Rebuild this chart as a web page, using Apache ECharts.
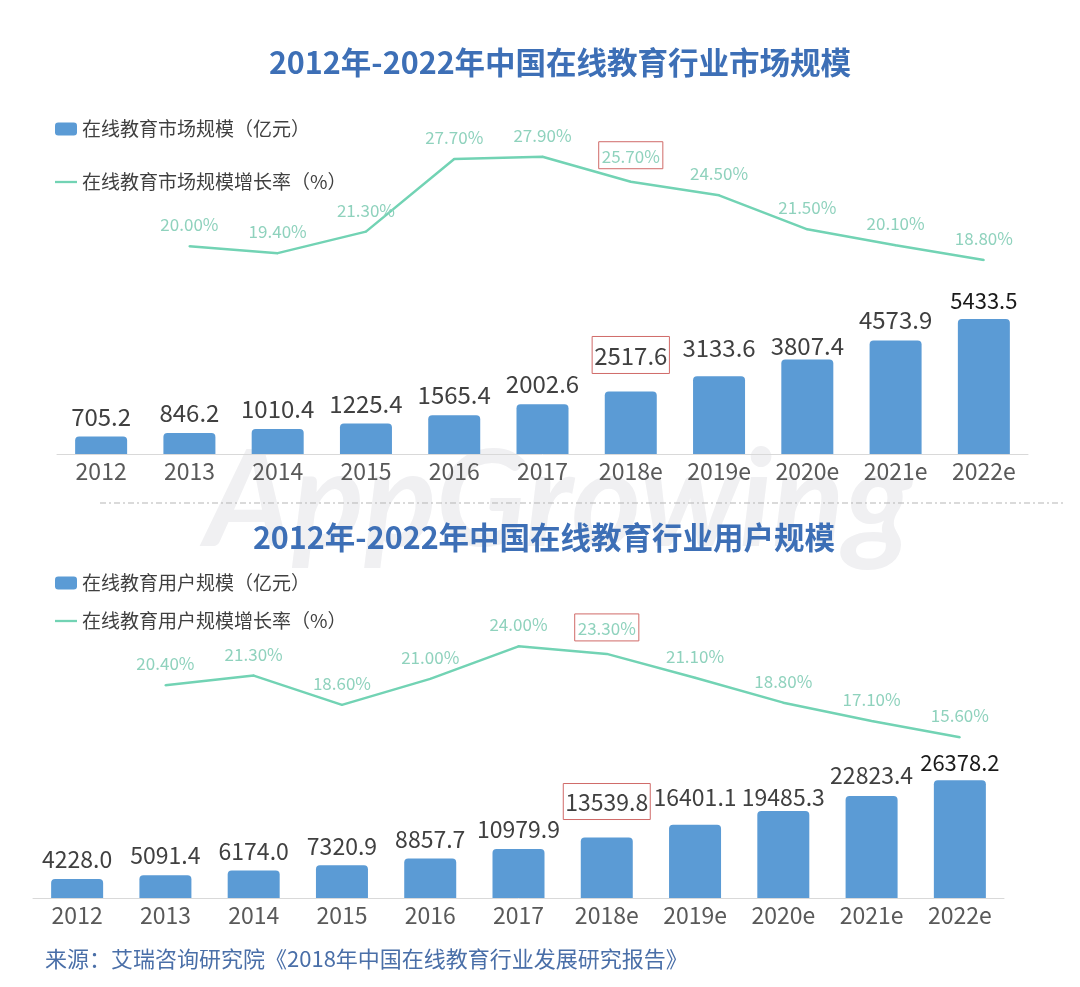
<!DOCTYPE html>
<html style="height: 100%">
<head>
<meta charset="utf-8">
<script src="https://cdn.jsdelivr.net/npm/echarts@6/dist/echarts.min.js"></script>
</head>
<body style="height: 100%; margin: 0; background: #fff">
<div id="container" style="width: 1080px; height: 987px"></div>
<script type="text/javascript">
var years = ['2012', '2013', '2014', '2015', '2016', '2017', '2018e', '2019e', '2020e', '2021e', '2022e'];
// 市场规模（亿元）及增长率（%）
var marketSize = [705.2, 846.2, 1010.4, 1225.4, 1565.4, 2002.6, 2517.6, 3133.6, 3807.4, 4573.9, 5433.5];
var marketGrowth = [null, 20.0, 19.4, 21.3, 27.7, 27.9, 25.7, 24.5, 21.5, 20.1, 18.8];
// 用户规模及增长率（%）
var userSize = [4228.0, 5091.4, 6174.0, 7320.9, 8857.7, 10979.9, 13539.8, 16401.1, 19485.3, 22823.4, 26378.2];
var userGrowth = [null, 20.4, 21.3, 18.6, 21.0, 24.0, 23.3, 21.1, 18.8, 17.1, 15.6];
var markIndex = 6; // 2018e 加框
// 原图中柱顶数字并非等距，这里微调
var labelLift = [0, 0, 0, 0, 0, 0, 10, 8, -6, 1, -1];

var barColor = '#5b9bd5';
var lineColor = '#72d3b4';
var lineLabelColor = '#8fd2bd';
var boxColor = '#d06a68';
var font = '"Noto Sans CJK SC", "Noto Sans", sans-serif';
var lineIcon = 'path://M0,0 H24 V2.5 H0 Z';

var myChart = echarts.init(document.getElementById('container'));

function barData(arr) {
    return arr.map(function (v, i) {
        var lbl = { distance: 8 + labelLift[i] };
        if (i === markIndex) {
            lbl.borderColor = boxColor;
            lbl.borderWidth = 1;
            lbl.borderType = 'solid';
            lbl.padding = [7, 2, 6, 2];
        }
        if (i === arr.length - 1) {
            lbl.color = '#1a1a1a';
            lbl.fontSize = 22;
        }
        return { value: v, label: lbl };
    });
}
function lineData(arr) {
    return arr.map(function (v, i) {
        var item = { value: v };
        if (i === markIndex) {
            item.label = { borderColor: boxColor, borderWidth: 1, padding: [6, 3, 4, 3] };
        }
        return item;
    });
}

function catAxis(grid, show) {
    return {
        type: 'category',
        gridIndex: grid,
        data: years,
        show: show,
        axisTick: { show: false },
        axisLine: { lineStyle: { color: '#d9d9d9' } },
        axisLabel: { color: '#595959', fontSize: 23, margin: 6, fontFamily: font }
    };
}
function valAxis(grid, min, max) {
    return { type: 'value', gridIndex: grid, min: min, max: max, show: false, splitLine: { show: false } };
}

function barLabel(size) {
    return {
        show: true, position: 'top', distance: 8, fontSize: size, color: '#404040', fontFamily: font,
        formatter: function (p) { return p.value == null ? '' : p.value.toFixed(1); }
    };
}
var lineLabel = {
    show: true, position: 'top', distance: 12, fontSize: 17, color: lineLabelColor, fontFamily: font,
    formatter: function (p) { return p.value == null ? '' : p.value.toFixed(2) + '%'; }
};

var option = {
    animation: false,
    title: [
        { text: '2012年-2022年中国在线教育行业市场规模', left: 555, top: 42, textAlign: 'center',
          textStyle: { fontSize: 30.5, fontWeight: 'bold', color: '#3d6fb6', fontFamily: font } },
        { text: '2012年-2022年中国在线教育行业用户规模', left: 539, top: 517, textAlign: 'center',
          textStyle: { fontSize: 30.5, fontWeight: 'bold', color: '#3d6fb6', fontFamily: font } },
        { text: '来源：艾瑞咨询研究院《2018年中国在线教育行业发展研究报告》', left: 40, top: 943,
          textStyle: { fontSize: 22, fontWeight: 'normal', color: '#4a6fa8', fontFamily: font } }
    ],
    legend: [
        { data: [{ name: '在线教育市场规模（亿元）' }, { name: '在线教育市场规模增长率（%）', icon: lineIcon }],
          orient: 'vertical', left: 50, top: 113, itemWidth: 22, itemHeight: 13, itemGap: 31,
          textStyle: { fontSize: 19, color: '#404040', fontFamily: font, lineHeight: 22 } },
        { data: [{ name: '在线教育用户规模（亿元）' }, { name: '在线教育用户规模增长率（%）', icon: lineIcon }],
          orient: 'vertical', left: 50, top: 567, itemWidth: 22, itemHeight: 13, itemGap: 16,
          textStyle: { fontSize: 19, color: '#404040', fontFamily: font, lineHeight: 22 } }
    ],
    graphic: [
        { type: 'text', left: 205, top: 436, z: -10, silent: true,
          style: { text: 'AppGrowing', fontSize: 134, fontWeight: 'bold', fontStyle: 'italic',
                   fontFamily: 'Lato, sans-serif', fill: '#f0f0f2' } },
        { type: 'line', z: 1, shape: { x1: 100, y1: 503, x2: 1065, y2: 503 },
          style: { stroke: '#b5b5b5', lineWidth: 1, lineDash: [6, 3, 2, 3] } }
    ],
    grid: [
        { left: 57, right: 52, top: 133, bottom: 684 },
        { left: 57, right: 52, top: 305, bottom: 533 },
        { left: 33, right: 76, top: 603, bottom: 189 },
        { left: 33, right: 76, top: 764, bottom: 89 }
    ],
    xAxis: [catAxis(0, false), catAxis(1, true), catAxis(2, false), catAxis(3, true)],
    yAxis: [valAxis(0, 15, 30), valAxis(1, 0, 6000), valAxis(2, 10, 28), valAxis(3, 0, 30000)],
    series: [
        { name: '在线教育市场规模增长率（%）', type: 'line', xAxisIndex: 0, yAxisIndex: 0,
          data: lineData(marketGrowth), symbol: 'circle', symbolSize: 2, showSymbol: true, color: lineColor,
          lineStyle: { width: 2.5, color: lineColor }, label: lineLabel },
        { name: '在线教育市场规模（亿元）', type: 'bar', xAxisIndex: 1, yAxisIndex: 1,
          data: barData(marketSize), barWidth: 52, color: barColor,
          itemStyle: { borderRadius: [4, 4, 0, 0] }, label: barLabel(24) },
        { name: '在线教育用户规模增长率（%）', type: 'line', xAxisIndex: 2, yAxisIndex: 2,
          data: lineData(userGrowth), symbol: 'circle', symbolSize: 2, showSymbol: true, color: lineColor,
          lineStyle: { width: 2.5, color: lineColor }, label: lineLabel },
        { name: '在线教育用户规模（亿元）', type: 'bar', xAxisIndex: 3, yAxisIndex: 3,
          data: barData(userSize), barWidth: 52, color: barColor,
          itemStyle: { borderRadius: [4, 4, 0, 0] }, label: barLabel(23) }
    ]
};

myChart.setOption(option);
</script>
</body>
</html>
